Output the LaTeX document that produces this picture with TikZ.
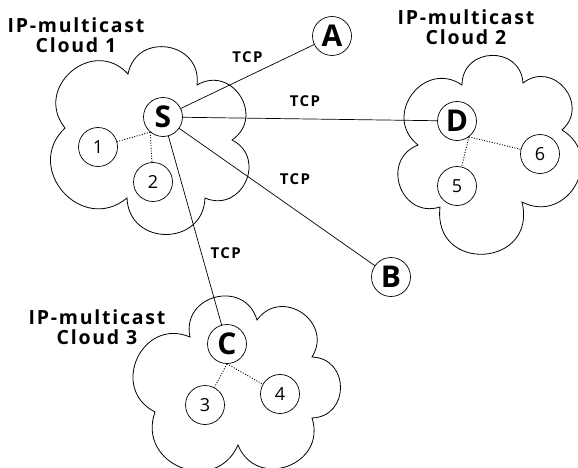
\documentclass[tikz,border=0pt]{standalone}
\usepackage{fontspec}
\setmainfont{Open Sans}
\newfontfamily\spacedfont[LetterSpace=9]{Open Sans}
\usetikzlibrary{positioning,calc}
\tikzset{
	station/.style = {draw, fill=white, circle, minimum size=39pt, inner sep=0pt, line width=0.7pt, font=\bfseries\fontsize{30}{30}\selectfont},
	host/.style = {draw, fill=white, circle, minimum size=39pt, inner sep=0pt, line width=0.7pt, font=\fontsize{18}{18}\selectfont},
	cloudname/.style = {align=center, inner sep=0pt, font=\spacedfont\bfseries\fontsize{19.5}{20}\selectfont},
	tcp/.style = {inner sep=0pt, font=\spacedfont\bfseries\fontsize{15}{15}\selectfont},
	link/.style = {line width=0.7pt},
	local/.style = {line width=0.9pt, dash pattern=on 1pt off 1.6pt},
	cloudedge/.style = {line width=0.8pt},
	puff/.style = {bend left=88, looseness=1.6},
	bigpuff/.style = {bend left=100, looseness=2.1}
}

\begin{document}
\begin{tikzpicture}[x=1pt,y=-1pt]
\useasboundingbox (0,0) rectangle (578,468);

% the three multicast clouds
\draw[cloudedge] (128,74) to[puff] (197,85) to[puff] (232,140) to[puff] (205,198)
	to[puff] (127,198) to[puff] (65,128) to[puff] (128,74) -- cycle;
\draw[cloudedge] (462,85) to[puff] (523,83) to[puff] (562,130) to[puff] (522,202)
	to[bigpuff] (440,207) to[puff] (418,145) to[puff] (462,85) -- cycle;
\draw[cloudedge] (190,337) to[puff] (257,320) to[puff] (312,357) to[puff] (312,418)
	to[puff] (238,445) to[puff] (155,412) to[puff] (190,337) -- cycle;

\node[cloudname] (name1) at (76,35) {IP-multicast\\Cloud 1};
\node[cloudname] (name2) at (466,27) {IP-multicast\\Cloud 2};
\node[cloudname] (name3) at (97,327) {IP-multicast\\Cloud 3};

% sender, unicast receivers and relays
\node[station] (S) at (163,117) {S};
\node[station] (A) at (332,36) {A};
\node[station] (B) at (391,277) {B};
\node[station] (C) at (227,344) {C};
\node[station] (D) at (457,121) {D};

% local members
\node[host] (h1) at (98,147) {1};
\node[host] (h2) at (153,182) {2};
\node[host] (h3) at (205,405) {3};
\node[host] (h4) at (280,394) {4};
\node[host] (h5) at (457,186) {5};
\node[host] (h6) at (540,154) {6};

\draw[link] (S) -- node[tcp, pos=.5, yshift=19.5pt] {TCP} (A);
\draw[link] (S) -- node[tcp, pos=.5, xshift=-5pt, yshift=18pt] {TCP} (D);
\draw[link] (S) -- node[tcp, pos=.5, xshift=18pt, yshift=17.5pt] {TCP} (B);
\draw[link] (S) -- node[tcp, pos=.62, anchor=west, xshift=9pt] {TCP} (C);

\draw[local] (S.230) -- (h1);
\draw[local] (S.230) -- (h2);
\draw[local] (D.307) -- (h5);
\draw[local] (D.307) -- (h6);
\draw[local] (C.south) -- (h3);
\draw[local] (C.south) -- (h4);
\end{tikzpicture}
\end{document}
